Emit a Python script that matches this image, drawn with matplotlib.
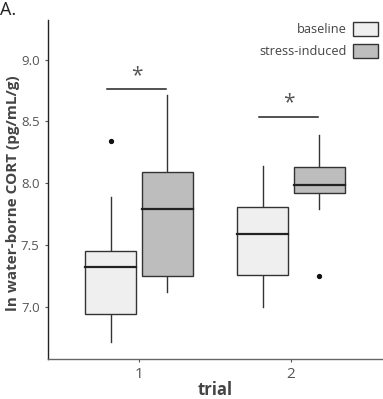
import matplotlib
matplotlib.use("Agg")
import matplotlib.pyplot as plt
from matplotlib.patches import Rectangle

plt.rcParams['font.family'] = ['Open Sans', 'DejaVu Sans']

trials = [1, 2]
groups = ['baseline', 'stress-induced']
colors = ['#efefef', '#bdbdbd']

# box stats: whisker low, q1, median, q3, whisker high
baseline_stats = [(6.72, 6.94, 7.32, 7.45, 7.89), (7.00, 7.26, 7.59, 7.81, 8.14)]
stress_stats = [(7.12, 7.25, 7.79, 8.09, 8.71), (7.79, 7.92, 7.99, 8.135, 8.39)]
baseline_out = [[8.34], []]
stress_out = [[], [7.25]]

sig_y = [8.76, 8.54]

fig = plt.figure(figsize=(3.83, 3.99), dpi=100)
ax = fig.add_axes([48/383, 40/399, 334/383, 339/399])

offs = [-0.187, 0.187]
bw = 0.335
for stats_list, outs, off, col in [(baseline_stats, baseline_out, offs[0], colors[0]),
                                   (stress_stats, stress_out, offs[1], colors[1])]:
    for t, st, ol in zip(trials, stats_list, outs):
        x = t + off
        lo, q1, med, q3, hi = st
        ax.add_patch(Rectangle((x - bw/2, q1), bw, q3 - q1, facecolor=col,
                               edgecolor='#333333', lw=1.0, zorder=2))
        ax.plot([x - bw/2, x + bw/2], [med, med], color='#222222', lw=1.6, zorder=3)
        ax.plot([x, x], [q3, hi], color='#333333', lw=1.0, zorder=1)
        ax.plot([x, x], [lo, q1], color='#333333', lw=1.0, zorder=1)
        for o in ol:
            ax.plot([x], [o], 'o', color='#111111', ms=2.8, zorder=3)

# significance bars
for t, y in zip(trials, sig_y):
    ax.plot([t - 0.21, t + 0.18], [y, y], color='#222222', lw=1.1)
    ax.text(t - 0.015, y + 0.025, '*', ha='center', va='bottom', fontsize=15,
            color='#555555')

ax.set_xlim(0.4, 2.6)
ax.set_ylim(6.58, 9.32)
ax.set_xticks(trials)
ax.set_xticklabels([str(t) for t in trials])
ax.set_yticks([7.0, 7.5, 8.0, 8.5, 9.0])
ax.set_yticklabels(['7.0', '7.5', '8.0', '8.5', '9.0'])
ax.tick_params(axis='both', colors='#555555', labelsize=9.5, length=2.5, width=0.8)
ax.tick_params(axis='x', labelsize=11, pad=3)
ax.spines['top'].set_visible(False)
ax.spines['right'].set_visible(False)
ax.spines['left'].set_color('#222222')
ax.spines['bottom'].set_color('#666666')
ax.spines['left'].set_linewidth(1.0)
ax.spines['bottom'].set_linewidth(1.0)

ax.set_xlabel('trial', fontsize=12, fontweight='bold', color='#444444')
ax.xaxis.set_label_coords(0.5, -22/339)
ax.set_ylabel('ln water-borne CORT (pg/mL/g)', fontsize=11, fontweight='bold',
              color='#444444')
ax.yaxis.set_label_coords(-28/334, 0.49)

# legend
handles = [Rectangle((0, 0), 1, 1, facecolor=c, edgecolor='#333333', lw=1.0) for c in colors]
leg = fig.legend(handles, groups, loc='upper right', bbox_to_anchor=(1.008, 0.965),
                 frameon=False, fontsize=9.2, markerfirst=False, handlelength=2.0,
                 handleheight=1.35, handletextpad=0.5, labelspacing=0.6,
                 borderaxespad=0.2)
for txt in leg.get_texts():
    txt.set_color('#444444')

fig.text(0.0, 0.998, 'A.', fontsize=13, ha='left', va='top', color='#222222')

fig.savefig('out.png', dpi=100)
